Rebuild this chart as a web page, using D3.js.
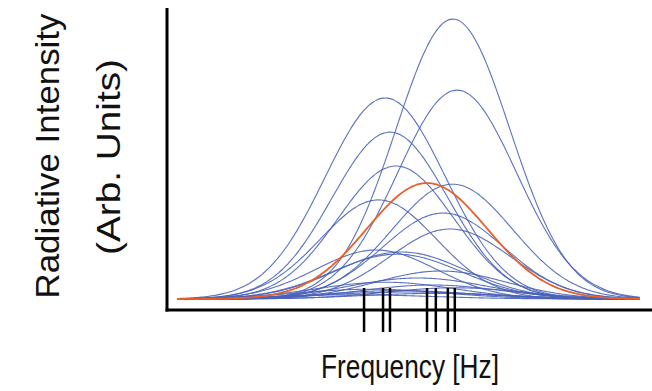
<!DOCTYPE html>
<html>
<head>
<meta charset="utf-8">
<script src="https://cdn.jsdelivr.net/npm/d3@7"></script>
<style>
  body { margin: 0; background: #fff; }
  svg { display: block; font-family: "Liberation Sans", Arial, sans-serif; }
</style>
</head>
<body>
<svg id="chart" width="652" height="391"></svg>
<script>
// line profiles: center frequency, width (sigma) and peak intensity, arbitrary units
var centers = [59.6, 60.5, 45.0, 46.0, 47.3, 59.5, 43.5, 57.5, 59.0, 43.0, 48.5, 47.5, 57.0, 52.0, 45.0, 55.0, 60.0, 48.0, 56.0, 42.0, 50.0, 38.0];
var widths  = [12.3, 12.8, 13.0, 12.5, 12.5, 13.0, 12.5, 13.0, 13.0, 13.0, 14.0, 14.0, 14.0, 15.0, 15.0, 15.0, 15.0, 16.0, 16.0, 16.0, 18.0, 17.0];
var peaks   = [100, 74.6, 71.8, 59.6, 47.5, 41.0, 35.4, 30.7, 25.0, 17.5, 16.8, 16.0, 10.0, 7.5, 6.0, 5.0, 4.0, 3.0, 2.0, 3.5, 2.5, 1.5];

// highlighted profile
var hlCenter = 54.0, hlWidth = 13.0, hlPeak = 41.4;

// line positions marked on the frequency axis
var lineFreqs = [40.4, 44.5, 46.0, 54.0, 55.9, 58.5, 60.0];

var svg = d3.select("#chart");

var x = d3.scaleLinear().domain([0, 100]).range([177, 640]);
var y = d3.scaleLinear().domain([0, 100]).range([299, 19]);

var freqs = d3.range(0, 100.01, 0.5);

function profile(c, s, a) {
  return freqs.map(function (f) {
    return [f, a * Math.exp(-(f - c) * (f - c) / (2 * s * s))];
  });
}

var line = d3.line()
  .x(function (d) { return x(d[0]); })
  .y(function (d) { return y(d[1]); })
  .curve(d3.curveBasis);

var g = svg.append("g");

centers.forEach(function (c, i) {
  g.append("path")
    .datum(profile(c, widths[i], peaks[i]))
    .attr("fill", "none")
    .attr("stroke", "#4a62b8")
    .attr("stroke-opacity", 0.9)
    .attr("stroke-width", 1.1)
    .attr("d", line);
});

g.append("path")
  .datum(profile(hlCenter, hlWidth, hlPeak))
  .attr("fill", "none")
  .attr("stroke", "#e8602a")
  .attr("stroke-width", 1.8)
  .attr("d", line);

// axes (no ticks, just the frame lines)
svg.append("line")
  .attr("x1", 167).attr("x2", 167)
  .attr("y1", 8).attr("y2", 311.5)
  .attr("stroke", "#000").attr("stroke-width", 3);

svg.append("line")
  .attr("x1", 165.5).attr("x2", 660)
  .attr("y1", 310).attr("y2", 310)
  .attr("stroke", "#000").attr("stroke-width", 3);

// line position markers
svg.selectAll(".mark")
  .data(lineFreqs)
  .enter().append("line")
  .attr("class", "mark")
  .attr("x1", function (d) { return x(d); })
  .attr("x2", function (d) { return x(d); })
  .attr("y1", 288).attr("y2", 332)
  .attr("stroke", "#000").attr("stroke-width", 2.5);

// labels
svg.append("text")
  .attr("transform", "translate(410,378) scale(1,1.25)")
  .attr("text-anchor", "middle")
  .attr("font-size", 27)
  .attr("textLength", 178)
  .attr("lengthAdjust", "spacingAndGlyphs")
  .attr("fill", "#111")
  .text("Frequency [Hz]");

svg.append("text")
  .attr("transform", "translate(59,156) rotate(-90)")
  .attr("text-anchor", "middle")
  .attr("font-size", 33)
  .attr("textLength", 285)
  .attr("lengthAdjust", "spacingAndGlyphs")
  .attr("fill", "#111")
  .text("Radiative Intensity");

svg.append("text")
  .attr("transform", "translate(120,157) rotate(-90)")
  .attr("text-anchor", "middle")
  .attr("font-size", 33)
  .attr("textLength", 196)
  .attr("lengthAdjust", "spacingAndGlyphs")
  .attr("fill", "#111")
  .text("(Arb. Units)");
</script>
</body>
</html>
